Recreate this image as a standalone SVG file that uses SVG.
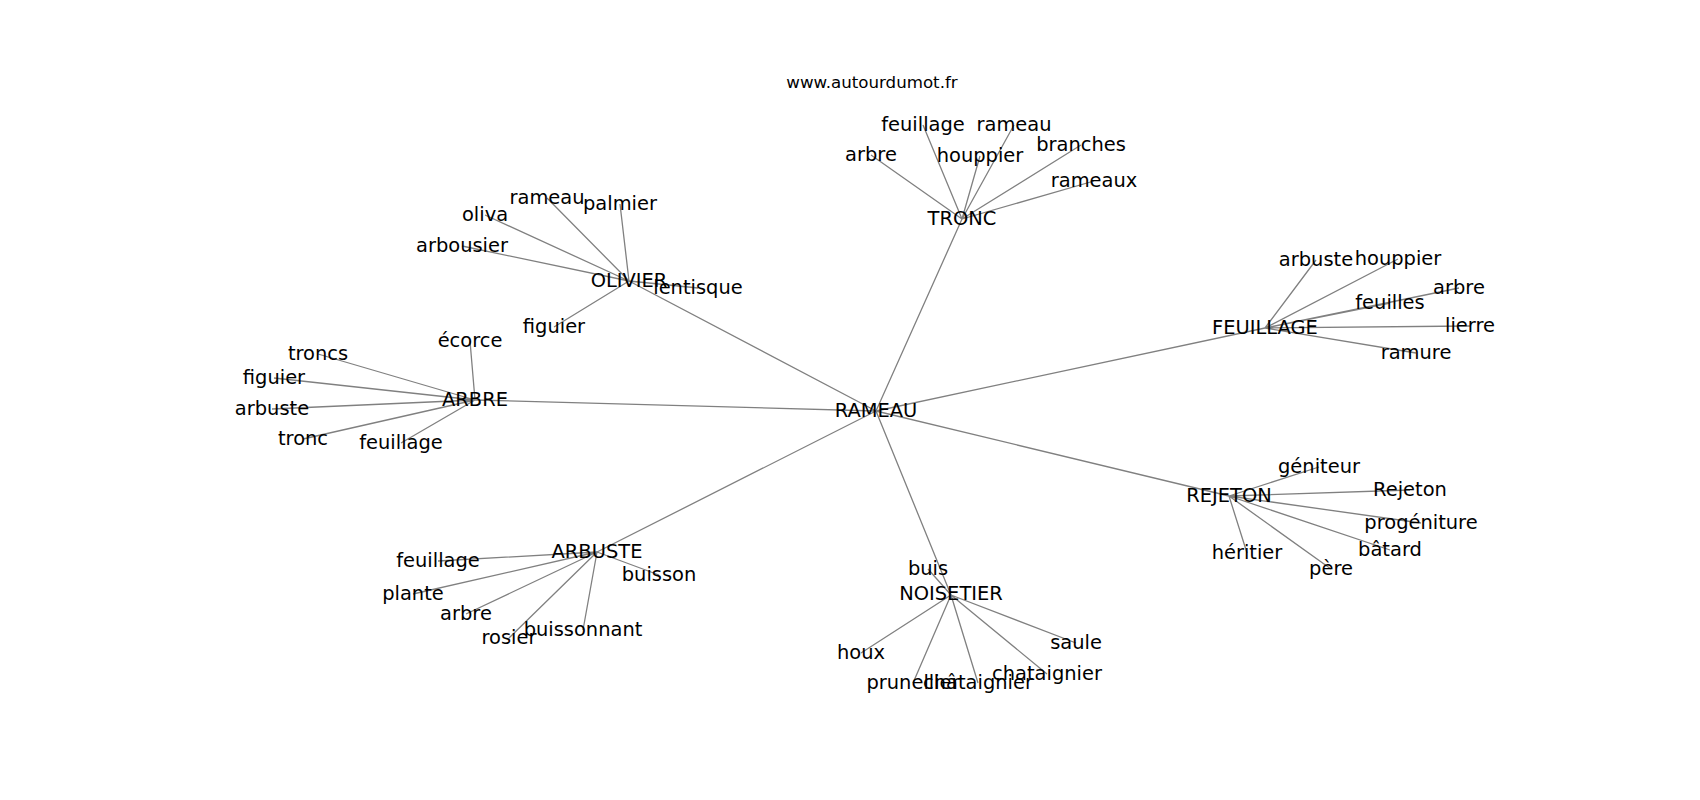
<svg xmlns="http://www.w3.org/2000/svg" width="1700" height="800" viewBox="0 0 1700 800">
<style>
.e{stroke:#808080;stroke-width:1.3;fill:none}
text{font-family:"DejaVu Sans",sans-serif;font-size:19.44px;fill:#000;text-anchor:middle}
.t{font-size:16.67px}
</style>
<rect width="1700" height="800" fill="#fff"/>
<text class="t" x="872" y="88">www.autourdumot.fr</text>
<g id="edges">
<path class="e" d="M876,411L962,219M876,411L629,281M876,411L475,400M876,411L597,552M876,411L951,595M876,411L1229,496M876,411L1265,328"/>
<path class="e" d="M962,219L871,155M962,219L923,125M962,219L980,156M962,219L1014,125M962,219L1081,145M962,219L1094,181"/>
<path class="e" d="M629,281L547,198M629,281L620,204M629,281L485,215M629,281L462,246M629,281L698,288M629,281L554,327"/>
<path class="e" d="M475,400L470,341M475,400L318,354M475,400L274,378M475,400L272,409M475,400L303,439M475,400L401,443"/>
<path class="e" d="M597,552L438,561M597,552L413,594M597,552L466,614M597,552L509,638M597,552L583,630M597,552L659,575"/>
<path class="e" d="M1265,328L1316,260M1265,328L1398,259M1265,328L1390,303M1265,328L1459,288M1265,328L1470,326M1265,328L1416,353"/>
<path class="e" d="M1229,496L1319,467M1229,496L1410,490M1229,496L1421,523M1229,496L1390,550M1229,496L1331,569M1229,496L1247,553"/>
<path class="e" d="M951,595L928,569M951,595L861,653M951,595L913,683M951,595L978,683M951,595L1047,674M951,595L1076,643"/>
</g>
<g id="RAMEAU"><text x="876" y="416.5">RAMEAU</text></g>
<g id="TRONC"><text x="962" y="224.5">TRONC</text>
<text x="871" y="160.5">arbre</text><text x="923" y="130.5">feuillage</text><text x="980" y="161.5">houppier</text><text x="1014" y="130.5">rameau</text><text x="1081" y="150.5">branches</text><text x="1094" y="186.5">rameaux</text></g>
<g id="OLIVIER"><text x="629" y="286.5">OLIVIER</text>
<text x="547" y="203.5">rameau</text><text x="620" y="209.5">palmier</text><text x="485" y="220.5">oliva</text><text x="462" y="251.5">arbousier</text><text x="698" y="293.5">lentisque</text><text x="554" y="332.5">figuier</text></g>
<g id="ARBRE"><text x="475" y="405.5">ARBRE</text>
<text x="470" y="346.5">écorce</text><text x="318" y="359.5">troncs</text><text x="274" y="383.5">figuier</text><text x="272" y="414.5">arbuste</text><text x="303" y="444.5">tronc</text><text x="401" y="448.5">feuillage</text></g>
<g id="ARBUSTE"><text x="597" y="557.5">ARBUSTE</text>
<text x="438" y="566.5">feuillage</text><text x="413" y="599.5">plante</text><text x="466" y="619.5">arbre</text><text x="509" y="643.5">rosier</text><text x="583" y="635.5">buissonnant</text><text x="659" y="580.5">buisson</text></g>
<g id="FEUILLAGE"><text x="1265" y="333.5">FEUILLAGE</text>
<text x="1316" y="265.5">arbuste</text><text x="1398" y="264.5">houppier</text><text x="1390" y="308.5">feuilles</text><text x="1459" y="293.5">arbre</text><text x="1470" y="331.5">lierre</text><text x="1416" y="358.5">ramure</text></g>
<g id="REJETON"><text x="1229" y="501.5">REJETON</text>
<text x="1319" y="472.5">géniteur</text><text x="1410" y="495.5">Rejeton</text><text x="1421" y="528.5">progéniture</text><text x="1390" y="555.5">bâtard</text><text x="1331" y="574.5">père</text><text x="1247" y="558.5">héritier</text></g>
<g id="NOISETIER"><text x="951" y="600">NOISETIER</text>
<text x="928" y="574.5">buis</text><text x="861" y="658.5">houx</text><text x="913" y="688.5">prunellier</text><text x="978" y="688.5">châtaignier</text><text x="1047" y="679.5">chataignier</text><text x="1076" y="648.5">saule</text></g>
</svg>
